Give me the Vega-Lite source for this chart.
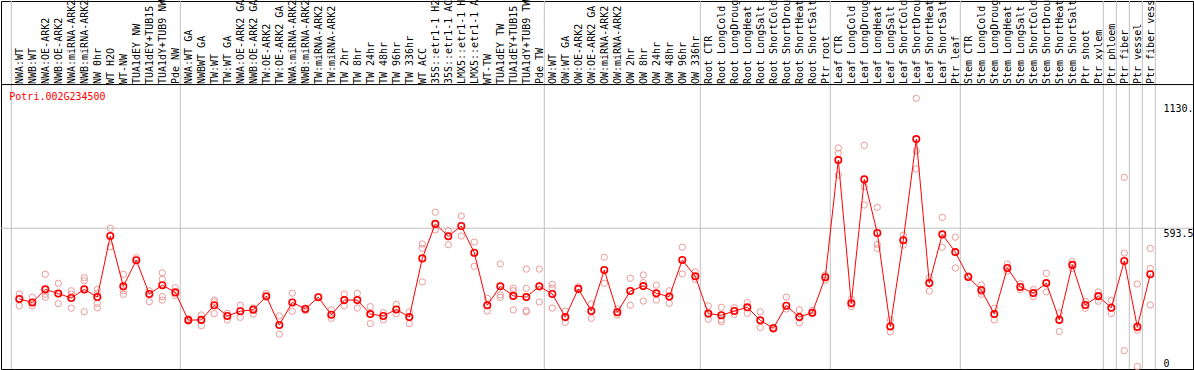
{
  "$schema": "https://vega.github.io/schema/vega-lite/v6.json",
  "autosize": {"type": "none"},
  "padding": {"left": 1, "top": 1, "right": 1, "bottom": 1},
  "width": 1192,
  "height": 368,
  "background": "white",
  "config": {
    "view": {"stroke": "black", "strokeWidth": 1},
    "font": "DejaVu Sans Mono",
    "axis": {"labelFont": "DejaVu Sans Mono", "labelFontSize": 10, "labelColor": "black"}
  },
  "datasets": {
    "means": [
      {"cat": "NWA:WT", "v": 290}, {"cat": "NWB:WT", "v": 275}, {"cat": "NWA:OE-ARK2", "v": 331}, {"cat": "NWB:OE-ARK2", "v": 313},
      {"cat": "NWA:miRNA-ARK2", "v": 294}, {"cat": "NWB:miRNA-ARK2", "v": 331}, {"cat": "NW 0hr", "v": 298}, {"cat": "WT H2O", "v": 560},
      {"cat": "WT-NW", "v": 344}, {"cat": "TUA1dEY NW", "v": 456}, {"cat": "TUA1dEY+TUB15 NW", "v": 311}, {"cat": "TUA1dY+TUB9 NW", "v": 349},
      {"cat": "Pde NW", "v": 318}, {"cat": "NWA:WT GA", "v": 199}, {"cat": "NWBWT GA", "v": 200}, {"cat": "TW:WT", "v": 263},
      {"cat": "TW:WT GA", "v": 217}, {"cat": "NWA:OE-ARK2 GA", "v": 237}, {"cat": "NWB:OE-ARK2 GA", "v": 244}, {"cat": "TW:OE-ARK2", "v": 301},
      {"cat": "TW:OE-ARK2 GA", "v": 178}, {"cat": "NWA:miRNA-ARK2 GA", "v": 275}, {"cat": "NWB:miRNA-ARK2 GA", "v": 247}, {"cat": "TW:miRNA-ARK2", "v": 297},
      {"cat": "TW:miRNA-ARK2 GA", "v": 222}, {"cat": "TW 2hr", "v": 285}, {"cat": "TW 8hr", "v": 285}, {"cat": "TW 24hr", "v": 225},
      {"cat": "TW 48hr", "v": 217}, {"cat": "TW 96hr", "v": 245}, {"cat": "TW 336hr", "v": 212}, {"cat": "WT ACC", "v": 464},
      {"cat": "35S::etr1-1 H2O", "v": 612}, {"cat": "35S::etr1-1 ACC", "v": 559}, {"cat": "LMX5::etr1-1 H2O", "v": 603}, {"cat": "LMX5::etr1-1 ACC", "v": 488},
      {"cat": "WT-TW", "v": 263}, {"cat": "TUA1dEY TW", "v": 344}, {"cat": "TUA1dEY+TUB15 TW", "v": 303}, {"cat": "TUA1dY+TUB9 TW", "v": 298},
      {"cat": "Pde TW", "v": 344}, {"cat": "OW:WT", "v": 311}, {"cat": "OW:WT GA", "v": 212}, {"cat": "OW:OE-ARK2", "v": 333},
      {"cat": "OW:OE-ARK2 GA", "v": 238}, {"cat": "OW:miRNA-ARK2", "v": 414}, {"cat": "OW:miRNA-ARK2 GA", "v": 233}, {"cat": "OW 2hr", "v": 324},
      {"cat": "OW 8hr", "v": 345}, {"cat": "OW 24hr", "v": 314}, {"cat": "OW 48hr", "v": 300}, {"cat": "OW 96hr", "v": 457},
      {"cat": "OW 336hr", "v": 387}, {"cat": "Root CTR", "v": 227}, {"cat": "Root LongCold", "v": 220}, {"cat": "Root LongDrought", "v": 238},
      {"cat": "Root LongHeat", "v": 254}, {"cat": "Root LongSalt", "v": 198}, {"cat": "Root ShortCold", "v": 164}, {"cat": "Root ShortDrought", "v": 261},
      {"cat": "Root ShortHeat", "v": 212}, {"cat": "Root ShortSalt", "v": 231}, {"cat": "Ptr root", "v": 383}, {"cat": "Leaf CTR", "v": 886},
      {"cat": "Leaf LongCold", "v": 271}, {"cat": "Leaf LongDrought", "v": 803}, {"cat": "Leaf LongHeat", "v": 573}, {"cat": "Leaf LongSalt", "v": 172},
      {"cat": "Leaf ShortCold", "v": 542}, {"cat": "Leaf ShortDrought", "v": 976}, {"cat": "Leaf ShortHeat", "v": 358}, {"cat": "Leaf ShortSalt", "v": 567},
      {"cat": "Ptr leaf", "v": 491}, {"cat": "Stem CTR", "v": 384}, {"cat": "Stem LongCold", "v": 328}, {"cat": "Stem LongDrought", "v": 225},
      {"cat": "Stem LongHeat", "v": 423}, {"cat": "Stem LongSalt", "v": 341}, {"cat": "Stem ShortCold", "v": 315}, {"cat": "Stem ShortDrought", "v": 358},
      {"cat": "Stem ShortHeat", "v": 200}, {"cat": "Stem ShortSalt", "v": 436}, {"cat": "Ptr shoot", "v": 264}, {"cat": "Ptr xylem", "v": 302},
      {"cat": "Ptr phloem", "v": 252}, {"cat": "Ptr fiber", "v": 453}, {"cat": "Ptr vessel", "v": 170}, {"cat": "Ptr fiber vessel", "v": 396}
    ],
    "reps": [
      {"cat": "NWA:WT", "v": 311}, {"cat": "NWA:WT", "v": 290}, {"cat": "NWA:WT", "v": 260},
      {"cat": "NWB:WT", "v": 297}, {"cat": "NWB:WT", "v": 275}, {"cat": "NWB:WT", "v": 260},
      {"cat": "NWA:OE-ARK2", "v": 396}, {"cat": "NWA:OE-ARK2", "v": 310}, {"cat": "NWA:OE-ARK2", "v": 297},
      {"cat": "NWB:OE-ARK2", "v": 357}, {"cat": "NWB:OE-ARK2", "v": 313}, {"cat": "NWB:OE-ARK2", "v": 270},
      {"cat": "NWA:miRNA-ARK2", "v": 325}, {"cat": "NWA:miRNA-ARK2", "v": 311}, {"cat": "NWA:miRNA-ARK2", "v": 250},
      {"cat": "NWB:miRNA-ARK2", "v": 381}, {"cat": "NWB:miRNA-ARK2", "v": 368}, {"cat": "NWB:miRNA-ARK2", "v": 235},
      {"cat": "NW 0hr", "v": 331}, {"cat": "NW 0hr", "v": 313}, {"cat": "NW 0hr", "v": 271}, {"cat": "NW 0hr", "v": 252},
      {"cat": "WT H2O", "v": 593}, {"cat": "WT H2O", "v": 560}, {"cat": "WT H2O", "v": 514},
      {"cat": "WT-NW", "v": 396}, {"cat": "WT-NW", "v": 325}, {"cat": "WT-NW", "v": 310},
      {"cat": "TUA1dEY NW", "v": 467}, {"cat": "TUA1dEY NW", "v": 456},
      {"cat": "TUA1dEY+TUB15 NW", "v": 325}, {"cat": "TUA1dEY+TUB15 NW", "v": 311}, {"cat": "TUA1dEY+TUB15 NW", "v": 278},
      {"cat": "TUA1dY+TUB9 NW", "v": 402}, {"cat": "TUA1dY+TUB9 NW", "v": 374}, {"cat": "TUA1dY+TUB9 NW", "v": 300}, {"cat": "TUA1dY+TUB9 NW", "v": 285},
      {"cat": "Pde NW", "v": 338}, {"cat": "Pde NW", "v": 318}, {"cat": "Pde NW", "v": 305},
      {"cat": "NWA:WT GA", "v": 205}, {"cat": "NWA:WT GA", "v": 195},
      {"cat": "NWBWT GA", "v": 221}, {"cat": "NWBWT GA", "v": 200}, {"cat": "NWBWT GA", "v": 175},
      {"cat": "TW:WT", "v": 285}, {"cat": "TW:WT", "v": 277}, {"cat": "TW:WT", "v": 227},
      {"cat": "TW:WT GA", "v": 228}, {"cat": "TW:WT GA", "v": 217}, {"cat": "TW:WT GA", "v": 200},
      {"cat": "NWA:OE-ARK2 GA", "v": 263}, {"cat": "NWA:OE-ARK2 GA", "v": 237}, {"cat": "NWA:OE-ARK2 GA", "v": 211},
      {"cat": "NWB:OE-ARK2 GA", "v": 251}, {"cat": "NWB:OE-ARK2 GA", "v": 244}, {"cat": "NWB:OE-ARK2 GA", "v": 225},
      {"cat": "TW:OE-ARK2", "v": 314}, {"cat": "TW:OE-ARK2", "v": 301},
      {"cat": "TW:OE-ARK2 GA", "v": 217}, {"cat": "TW:OE-ARK2 GA", "v": 178}, {"cat": "TW:OE-ARK2 GA", "v": 139},
      {"cat": "NWA:miRNA-ARK2 GA", "v": 315}, {"cat": "NWA:miRNA-ARK2 GA", "v": 275}, {"cat": "NWA:miRNA-ARK2 GA", "v": 237},
      {"cat": "NWB:miRNA-ARK2 GA", "v": 251}, {"cat": "NWB:miRNA-ARK2 GA", "v": 247}, {"cat": "NWB:miRNA-ARK2 GA", "v": 240},
      {"cat": "TW:miRNA-ARK2", "v": 300}, {"cat": "TW:miRNA-ARK2", "v": 297},
      {"cat": "TW:miRNA-ARK2 GA", "v": 243}, {"cat": "TW:miRNA-ARK2 GA", "v": 222}, {"cat": "TW:miRNA-ARK2 GA", "v": 207},
      {"cat": "TW 2hr", "v": 311}, {"cat": "TW 2hr", "v": 285}, {"cat": "TW 2hr", "v": 260},
      {"cat": "TW 8hr", "v": 314}, {"cat": "TW 8hr", "v": 285}, {"cat": "TW 8hr", "v": 251},
      {"cat": "TW 24hr", "v": 257}, {"cat": "TW 24hr", "v": 225}, {"cat": "TW 24hr", "v": 184},
      {"cat": "TW 48hr", "v": 231}, {"cat": "TW 48hr", "v": 217}, {"cat": "TW 48hr", "v": 200},
      {"cat": "TW 96hr", "v": 267}, {"cat": "TW 96hr", "v": 245}, {"cat": "TW 96hr", "v": 227},
      {"cat": "TW 336hr", "v": 234}, {"cat": "TW 336hr", "v": 212}, {"cat": "TW 336hr", "v": 184},
      {"cat": "WT ACC", "v": 526}, {"cat": "WT ACC", "v": 507}, {"cat": "WT ACC", "v": 363},
      {"cat": "35S::etr1-1 H2O", "v": 662}, {"cat": "35S::etr1-1 H2O", "v": 612}, {"cat": "35S::etr1-1 H2O", "v": 586},
      {"cat": "35S::etr1-1 ACC", "v": 583}, {"cat": "35S::etr1-1 ACC", "v": 559}, {"cat": "35S::etr1-1 ACC", "v": 523},
      {"cat": "LMX5::etr1-1 H2O", "v": 646}, {"cat": "LMX5::etr1-1 H2O", "v": 603}, {"cat": "LMX5::etr1-1 H2O", "v": 560},
      {"cat": "LMX5::etr1-1 ACC", "v": 534}, {"cat": "LMX5::etr1-1 ACC", "v": 488}, {"cat": "LMX5::etr1-1 ACC", "v": 430},
      {"cat": "WT-TW", "v": 293}, {"cat": "WT-TW", "v": 263}, {"cat": "WT-TW", "v": 238},
      {"cat": "TUA1dEY TW", "v": 440}, {"cat": "TUA1dEY TW", "v": 307}, {"cat": "TUA1dEY TW", "v": 297},
      {"cat": "TUA1dEY+TUB15 TW", "v": 336}, {"cat": "TUA1dEY+TUB15 TW", "v": 325}, {"cat": "TUA1dEY+TUB15 TW", "v": 243},
      {"cat": "TUA1dY+TUB9 TW", "v": 418}, {"cat": "TUA1dY+TUB9 TW", "v": 335}, {"cat": "TUA1dY+TUB9 TW", "v": 240}, {"cat": "TUA1dY+TUB9 TW", "v": 234},
      {"cat": "Pde TW", "v": 418}, {"cat": "Pde TW", "v": 344}, {"cat": "Pde TW", "v": 277},
      {"cat": "OW:WT", "v": 353}, {"cat": "OW:WT", "v": 336}, {"cat": "OW:WT", "v": 251},
      {"cat": "OW:WT GA", "v": 238}, {"cat": "OW:WT GA", "v": 212}, {"cat": "OW:WT GA", "v": 189},
      {"cat": "OW:OE-ARK2", "v": 342}, {"cat": "OW:OE-ARK2", "v": 333},
      {"cat": "OW:OE-ARK2 GA", "v": 268}, {"cat": "OW:OE-ARK2 GA", "v": 238}, {"cat": "OW:OE-ARK2 GA", "v": 207},
      {"cat": "OW:miRNA-ARK2", "v": 469}, {"cat": "OW:miRNA-ARK2", "v": 414}, {"cat": "OW:miRNA-ARK2", "v": 357},
      {"cat": "OW:miRNA-ARK2 GA", "v": 247}, {"cat": "OW:miRNA-ARK2 GA", "v": 233}, {"cat": "OW:miRNA-ARK2 GA", "v": 221},
      {"cat": "OW 2hr", "v": 379}, {"cat": "OW 2hr", "v": 324}, {"cat": "OW 2hr", "v": 263},
      {"cat": "OW 8hr", "v": 393}, {"cat": "OW 8hr", "v": 360}, {"cat": "OW 8hr", "v": 281},
      {"cat": "OW 24hr", "v": 349}, {"cat": "OW 24hr", "v": 314}, {"cat": "OW 24hr", "v": 285},
      {"cat": "OW 48hr", "v": 325}, {"cat": "OW 48hr", "v": 300}, {"cat": "OW 48hr", "v": 271},
      {"cat": "OW 96hr", "v": 512}, {"cat": "OW 96hr", "v": 457}, {"cat": "OW 96hr", "v": 397},
      {"cat": "OW 336hr", "v": 406}, {"cat": "OW 336hr", "v": 386}, {"cat": "OW 336hr", "v": 374},
      {"cat": "Root CTR", "v": 260}, {"cat": "Root CTR", "v": 227}, {"cat": "Root CTR", "v": 203},
      {"cat": "Root LongCold", "v": 254}, {"cat": "Root LongCold", "v": 220}, {"cat": "Root LongCold", "v": 200}, {"cat": "Root LongCold", "v": 192},
      {"cat": "Root LongDrought", "v": 252}, {"cat": "Root LongDrought", "v": 238}, {"cat": "Root LongDrought", "v": 224},
      {"cat": "Root LongHeat", "v": 274}, {"cat": "Root LongHeat", "v": 254}, {"cat": "Root LongHeat", "v": 228},
      {"cat": "Root LongSalt", "v": 235}, {"cat": "Root LongSalt", "v": 198}, {"cat": "Root LongSalt", "v": 167},
      {"cat": "Root ShortCold", "v": 168}, {"cat": "Root ShortCold", "v": 160},
      {"cat": "Root ShortDrought", "v": 298}, {"cat": "Root ShortDrought", "v": 261}, {"cat": "Root ShortDrought", "v": 247},
      {"cat": "Root ShortHeat", "v": 243}, {"cat": "Root ShortHeat", "v": 212}, {"cat": "Root ShortHeat", "v": 187},
      {"cat": "Root ShortSalt", "v": 241}, {"cat": "Root ShortSalt", "v": 231}, {"cat": "Root ShortSalt", "v": 228},
      {"cat": "Ptr root", "v": 393}, {"cat": "Ptr root", "v": 383}, {"cat": "Ptr root", "v": 371},
      {"cat": "Leaf CTR", "v": 938}, {"cat": "Leaf CTR", "v": 915}, {"cat": "Leaf CTR", "v": 822},
      {"cat": "Leaf LongCold", "v": 288}, {"cat": "Leaf LongCold", "v": 271}, {"cat": "Leaf LongCold", "v": 257},
      {"cat": "Leaf LongDrought", "v": 949}, {"cat": "Leaf LongDrought", "v": 772}, {"cat": "Leaf LongDrought", "v": 693},
      {"cat": "Leaf LongHeat", "v": 683}, {"cat": "Leaf LongHeat", "v": 524}, {"cat": "Leaf LongHeat", "v": 507},
      {"cat": "Leaf LongSalt", "v": 200}, {"cat": "Leaf LongSalt", "v": 172}, {"cat": "Leaf LongSalt", "v": 149},
      {"cat": "Leaf ShortCold", "v": 564}, {"cat": "Leaf ShortCold", "v": 542}, {"cat": "Leaf ShortCold", "v": 521},
      {"cat": "Leaf ShortDrought", "v": 1151}, {"cat": "Leaf ShortDrought", "v": 925}, {"cat": "Leaf ShortDrought", "v": 848},
      {"cat": "Leaf ShortHeat", "v": 381}, {"cat": "Leaf ShortHeat", "v": 358}, {"cat": "Leaf ShortHeat", "v": 324},
      {"cat": "Leaf ShortSalt", "v": 640}, {"cat": "Leaf ShortSalt", "v": 567}, {"cat": "Leaf ShortSalt", "v": 512},
      {"cat": "Ptr leaf", "v": 555}, {"cat": "Ptr leaf", "v": 491}, {"cat": "Ptr leaf", "v": 423},
      {"cat": "Stem CTR", "v": 390}, {"cat": "Stem CTR", "v": 384},
      {"cat": "Stem LongCold", "v": 350}, {"cat": "Stem LongCold", "v": 320}, {"cat": "Stem LongCold", "v": 310},
      {"cat": "Stem LongDrought", "v": 250}, {"cat": "Stem LongDrought", "v": 225}, {"cat": "Stem LongDrought", "v": 200},
      {"cat": "Stem LongHeat", "v": 440}, {"cat": "Stem LongHeat", "v": 423}, {"cat": "Stem LongHeat", "v": 410},
      {"cat": "Stem LongSalt", "v": 355}, {"cat": "Stem LongSalt", "v": 341}, {"cat": "Stem LongSalt", "v": 330},
      {"cat": "Stem ShortCold", "v": 330}, {"cat": "Stem ShortCold", "v": 315}, {"cat": "Stem ShortCold", "v": 300},
      {"cat": "Stem ShortDrought", "v": 400}, {"cat": "Stem ShortDrought", "v": 358}, {"cat": "Stem ShortDrought", "v": 320},
      {"cat": "Stem ShortHeat", "v": 230}, {"cat": "Stem ShortHeat", "v": 200}, {"cat": "Stem ShortHeat", "v": 150},
      {"cat": "Stem ShortSalt", "v": 450}, {"cat": "Stem ShortSalt", "v": 436}, {"cat": "Stem ShortSalt", "v": 420},
      {"cat": "Ptr shoot", "v": 280}, {"cat": "Ptr shoot", "v": 264}, {"cat": "Ptr shoot", "v": 250},
      {"cat": "Ptr xylem", "v": 320}, {"cat": "Ptr xylem", "v": 302}, {"cat": "Ptr xylem", "v": 280},
      {"cat": "Ptr phloem", "v": 284}, {"cat": "Ptr phloem", "v": 252}, {"cat": "Ptr phloem", "v": 228},
      {"cat": "Ptr fiber", "v": 812}, {"cat": "Ptr fiber", "v": 487}, {"cat": "Ptr fiber", "v": 68},
      {"cat": "Ptr vessel", "v": 354}, {"cat": "Ptr vessel", "v": 156}, {"cat": "Ptr vessel", "v": 0},
      {"cat": "Ptr fiber vessel", "v": 507}, {"cat": "Ptr fiber vessel", "v": 421}, {"cat": "Ptr fiber vessel", "v": 264}
    ],
    "bounds": [
      {"cat": "NWA:WT"}, {"cat": "NWA:WT GA"}, {"cat": "OW:WT"}, {"cat": "Root CTR"}, {"cat": "Leaf CTR"},
      {"cat": "Stem CTR"}, {"cat": "Ptr phloem"}, {"cat": "Ptr fiber"}, {"cat": "Ptr vessel"}, {"cat": "Ptr fiber vessel"}
    ],
    "title": [{"t": "Potri.002G234500"}]
  },
  "encoding": {
    "x": {
      "field": "cat", "type": "nominal",
      "scale": {"type": "point", "range": [18.3, 1149.3], "padding": 0,
        "domain": ["NWA:WT", "NWB:WT", "NWA:OE-ARK2", "NWB:OE-ARK2", "NWA:miRNA-ARK2", "NWB:miRNA-ARK2", "NW 0hr", "WT H2O", "WT-NW", "TUA1dEY NW", "TUA1dEY+TUB15 NW", "TUA1dY+TUB9 NW", "Pde NW",
          "NWA:WT GA", "NWBWT GA", "TW:WT", "TW:WT GA", "NWA:OE-ARK2 GA", "NWB:OE-ARK2 GA", "TW:OE-ARK2", "TW:OE-ARK2 GA", "NWA:miRNA-ARK2 GA", "NWB:miRNA-ARK2 GA", "TW:miRNA-ARK2", "TW:miRNA-ARK2 GA", "TW 2hr", "TW 8hr", "TW 24hr", "TW 48hr", "TW 96hr", "TW 336hr", "WT ACC", "35S::etr1-1 H2O", "35S::etr1-1 ACC", "LMX5::etr1-1 H2O", "LMX5::etr1-1 ACC", "WT-TW", "TUA1dEY TW", "TUA1dEY+TUB15 TW", "TUA1dY+TUB9 TW", "Pde TW",
          "OW:WT", "OW:WT GA", "OW:OE-ARK2", "OW:OE-ARK2 GA", "OW:miRNA-ARK2", "OW:miRNA-ARK2 GA", "OW 2hr", "OW 8hr", "OW 24hr", "OW 48hr", "OW 96hr", "OW 336hr",
          "Root CTR", "Root LongCold", "Root LongDrought", "Root LongHeat", "Root LongSalt", "Root ShortCold", "Root ShortDrought", "Root ShortHeat", "Root ShortSalt", "Ptr root",
          "Leaf CTR", "Leaf LongCold", "Leaf LongDrought", "Leaf LongHeat", "Leaf LongSalt", "Leaf ShortCold", "Leaf ShortDrought", "Leaf ShortHeat", "Leaf ShortSalt", "Ptr leaf",
          "Stem CTR", "Stem LongCold", "Stem LongDrought", "Stem LongHeat", "Stem LongSalt", "Stem ShortCold", "Stem ShortDrought", "Stem ShortHeat", "Stem ShortSalt", "Ptr shoot", "Ptr xylem",
          "Ptr phloem", "Ptr fiber", "Ptr vessel", "Ptr fiber vessel"]},
      "axis": {"orient": "top", "title": null, "labelAngle": -90, "offset": -83.5, "labelPadding": 1, "ticks": false, "domain": false, "grid": false, "labelOverlap": false, "labelLimit": 0, "labelFlush": false}
    }
  },
  "resolve": {"scale": {"x": "shared", "y": "shared"}},
  "layer": [
    {
      "data": {"name": "bounds"},
      "mark": {"type": "rule", "color": "#c0c0c0", "strokeWidth": 1, "xOffset": -8},
      "encoding": {}
    },
    {
      "data": {"values": [{"cat": "Ptr fiber vessel"}]},
      "mark": {"type": "rule", "color": "#c0c0c0", "strokeWidth": 1, "xOffset": 5},
      "encoding": {}
    },
    {
      "data": {"values": [{"k": 1}]},
      "mark": {"type": "rule", "color": "#c0c0c0", "strokeWidth": 1},
      "encoding": {"x": null, "y": {"datum": 593.5, "type": "quantitative"}}
    },
    {
      "data": {"values": [{"k": 1}]},
      "mark": {"type": "rule", "color": "black", "strokeWidth": 1},
      "encoding": {"x": null, "y": {"datum": 1210, "type": "quantitative"}}
    },
    {
      "data": {"name": "reps"},
      "mark": {"type": "point", "shape": "circle", "filled": false, "stroke": "#ec9a9a", "strokeWidth": 1, "size": 40, "opacity": 1},
      "encoding": {
        "y": {"field": "v", "type": "quantitative", "scale": {"domain": [-10.73, 1568.7], "nice": false, "zero": false},
          "axis": {"orient": "right", "title": null, "values": [0, 593.5, 1130], "labelExpr": "datum.value == 1130 ? '1130.' : (datum.value == 0 ? '0' : '593.5')", "offset": -30, "labelPadding": 0, "ticks": false, "domain": false, "grid": false, "labelAlign": "left", "labelBaseline": {"condition": {"test": "datum.value == 0", "value": "alphabetic"}, "value": "top"}}}
      }
    },
    {
      "data": {"name": "means"},
      "mark": {"type": "line", "color": "red", "strokeWidth": 1},
      "encoding": {"y": {"field": "v", "type": "quantitative"}}
    },
    {
      "data": {"name": "means"},
      "mark": {"type": "point", "shape": "circle", "filled": false, "stroke": "red", "strokeWidth": 1.6, "size": 42, "opacity": 1},
      "encoding": {"y": {"field": "v", "type": "quantitative"}}
    },
    {
      "data": {"name": "title"},
      "mark": {"type": "text", "color": "red", "align": "left", "baseline": "middle", "dx": -10, "font": "DejaVu Sans Mono", "fontSize": 10},
      "encoding": {"x": {"datum": "NWA:WT"}, "y": {"datum": 1155, "type": "quantitative"}, "text": {"field": "t"}}
    }
  ]
}
